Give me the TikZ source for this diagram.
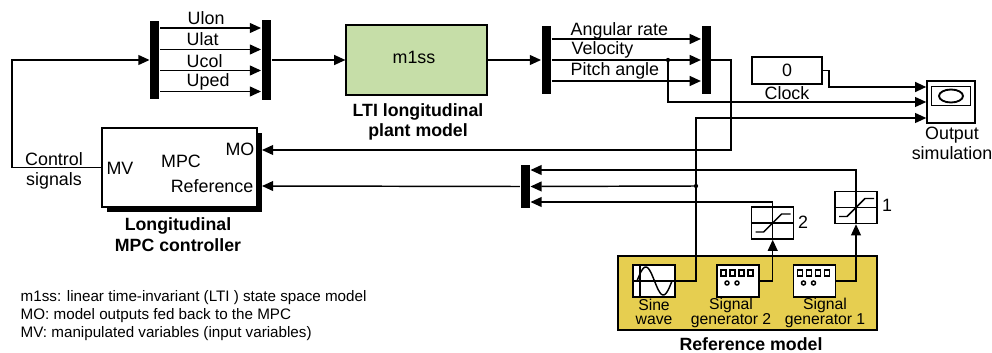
\documentclass[tikz,border=0pt]{standalone}
\usepackage{fontspec}
\setmainfont{Liberation Sans}
\usetikzlibrary{arrows.meta,shadows}
\tikzset{font=\fontsize{13.4}{15}\selectfont}
\definecolor{plantgreen}{HTML}{C6DEA8}
\definecolor{refyellow}{HTML}{E6CE50}

\begin{document}
\begin{tikzpicture}
  [x=0.75pt, y=-0.75pt, line width=1.1pt,
  every node/.style={inner sep=0pt, align=center},
  bus/.style={rectangle, fill=black, minimum width=6.8pt},
  block/.style={rectangle, draw, fill=white, minimum width=31.5pt, minimum height=24pt},
  sat/.style={rectangle, draw, fill=white, minimum width=31.5pt, minimum height=24pt},
  title/.style={font=\fontsize{13.3}{15.6}\selectfont\bfseries},
  small/.style={font=\fontsize{11.8}{11}\selectfont},
  note/.style={font=\fontsize{11.4}{13.5}\selectfont, align=left, anchor=west},
  line/.style={draw, -{Triangle[length=8.4pt,width=7.4pt]}}]
  \useasboundingbox (0,0) rectangle (992,353);

  % reference model background
  \node [rectangle, draw, fill=refyellow, minimum width=194pt, minimum height=55.5pt] (refmodel) at (747.5,293) {};

  % buses
  \node [bus, minimum height=58pt] (mux1) at (154.8,60) {};
  \node [bus, minimum height=60pt] (mux2) at (266.3,60) {};
  \node [bus, minimum height=51pt] (mux3) at (546.3,60) {};
  \node [bus, minimum height=51pt] (mux4) at (706.2,60) {};
  \node [bus, minimum height=32.5pt] (mux5) at (525.2,186.5) {};

  % blocks
  \node [rectangle, draw, fill=plantgreen, minimum width=105.5pt, minimum height=52.5pt] (plant) at (416.5,60) {};
  \node [rectangle, draw, fill=white, minimum width=116pt, minimum height=59pt,
    drop shadow={shadow xshift=3.9pt, shadow yshift=-3.9pt, fill=black, opacity=1}] (mpc) at (179.5,167.5) {};
  \node [rectangle, draw, fill=white, minimum width=52.5pt, minimum height=20.5pt] (clock) at (787,70.5) {0};
  \node [rectangle, draw, fill=white, minimum width=36pt, minimum height=31.5pt] (scope) at (951,102) {};
  \node [rectangle, draw, minimum width=29pt, minimum height=14pt] (screen) at (951,96) {};
  \node [sat] (sat1) at (856,207.5) {};
  \node [sat] (sat2) at (772.7,223) {};
  \node [block] (sine) at (654,281) {};
  \node [block] (gen2) at (738,281) {};
  \node [block] (gen1) at (814.5,281) {};

  % labels
  \node [anchor=west] (ulon) at (187,18) {Ulon};
  \node [anchor=west] (ulat) at (186,39) {Ulat};
  \node [anchor=west] (ucol) at (186,61) {Ucol};
  \node [anchor=west] (uped) at (186,82) {Uped};
  \node (m1ss) at (414,57) {m1ss};
  \node [title] (plantlbl) at (418,122) {LTI longitudinal\\plant model};
  \node [anchor=west] (rate) at (570,31) {Angular rate};
  \node [anchor=west] (vel) at (571,49.5) {Velocity};
  \node [anchor=west] (pitch) at (570,71) {Pitch angle};
  \node (clocklbl) at (787,93) {Clock};
  \node (scopelbl) at (952,143) {Output\\simulation};
  \node (ctrl) at (54,171) {Control\\signals};
  \node (mv) at (120,168) {MV};
  \node (mpclbl) at (181,161) {MPC};
  \node (mo) at (240,149) {MO};
  \node [anchor=east] (reflbl) at (254,186) {Reference};
  \node [title] (mpcname) at (178,235) {Longitudinal\\MPC controller};
  \node (lbl2) at (803,222) {2};
  \node (lbl1) at (887,205) {1};
  \node [small] (sinelbl) at (654,312) {Sine\\wave};
  \node [small] (gen2lbl) at (731,313) {Signal\\generator 2};
  \node [small] (gen1lbl) at (825,313) {Signal\\generator 1};
  \node [title] (refname) at (751,344) {Reference model};
  \node [note] (notes) at (20,315.5) {m1ss: linear time-invariant (LTI ) state space model\\MO: model outputs fed back to the MPC\\MV: manipulated variables (input variables)};

  % connectors
  \begin{scope}[every path/.style=line]
    \foreach \y in {28,49.5,70.5,91.5}
      \path (mux1.east |- 0,\y) -- (mux2.west |- 0,\y);
    \foreach \y in {39,60,81}
      \path (mux3.east |- 0,\y) -- (mux4.west |- 0,\y);
    \path (mpc.west) -| (12,60) -- (mux1.west);
    \path (mux2.east) -- (plant.west);
    \path (plant.east) -- (mux3.west);
    \path (mux4.east) -| (731,150) -- (262,150);
    \path (668,60) |- (scope.west);
    \path [line width=1.4pt] (clock.east) -- ++(6,0) |- (scope.west |- 0,87);
    \path (sine.east) -| (696,118) -- (scope.west |- 0,118);
    \path (sat1.north) |- (mux5.east |- 0,170);
    \path (696,186) -- (mux5.east);
    \path (sat2.north) ++(0,-5) |- (mux5.east |- 0,202);
    \path (mux5.west) -- (262,186);
    \path (gen2.east) -| (sat2.south);
    \path (gen1.east) -| (sat1.south);
  \end{scope}

  % junctions
  \fill (668,60) circle (1.6pt);
  \fill (696,186) circle (1.6pt);

  % scope trace
  \draw [line width=1.4pt] (screen.center) ellipse (12 and 6.5);

  % saturation icons
  \foreach \n in {sat1,sat2} {
    \draw (\n.north) -- (\n.south);
    \draw (\n.west) -- (\n.east);
    \draw ([shift={(-17,9)}]\n.center) -- ++(8,0) -- ++(18,-18) -- ++(9,0);
  }
  \draw (sat2.north) -- ++(0,-5);

  % generator icons
  \foreach \n in {gen1,gen2} {
    \foreach \x in {-14.5,-5.5,3.5,12.5}
      \draw ([shift={(\x,-8)}]\n.center) ++(-2.5,-3) rectangle ++(5,6);
    \foreach \x in {-11,-1}
      \draw ([shift={(\x,2)}]\n.center) circle (1.5pt);
  }

  % sine icon
  \draw ([xshift=-10.5pt]sine.north) -- ([xshift=-10.5pt]sine.south);
  \draw (sine.west) -- (sine.east);
  \draw [shift=(sine.center)] plot [domain=-17:18, samples=40, smooth] (\x,{-14*sin(360*(\x+17)/35)});
\end{tikzpicture}
\end{document}
